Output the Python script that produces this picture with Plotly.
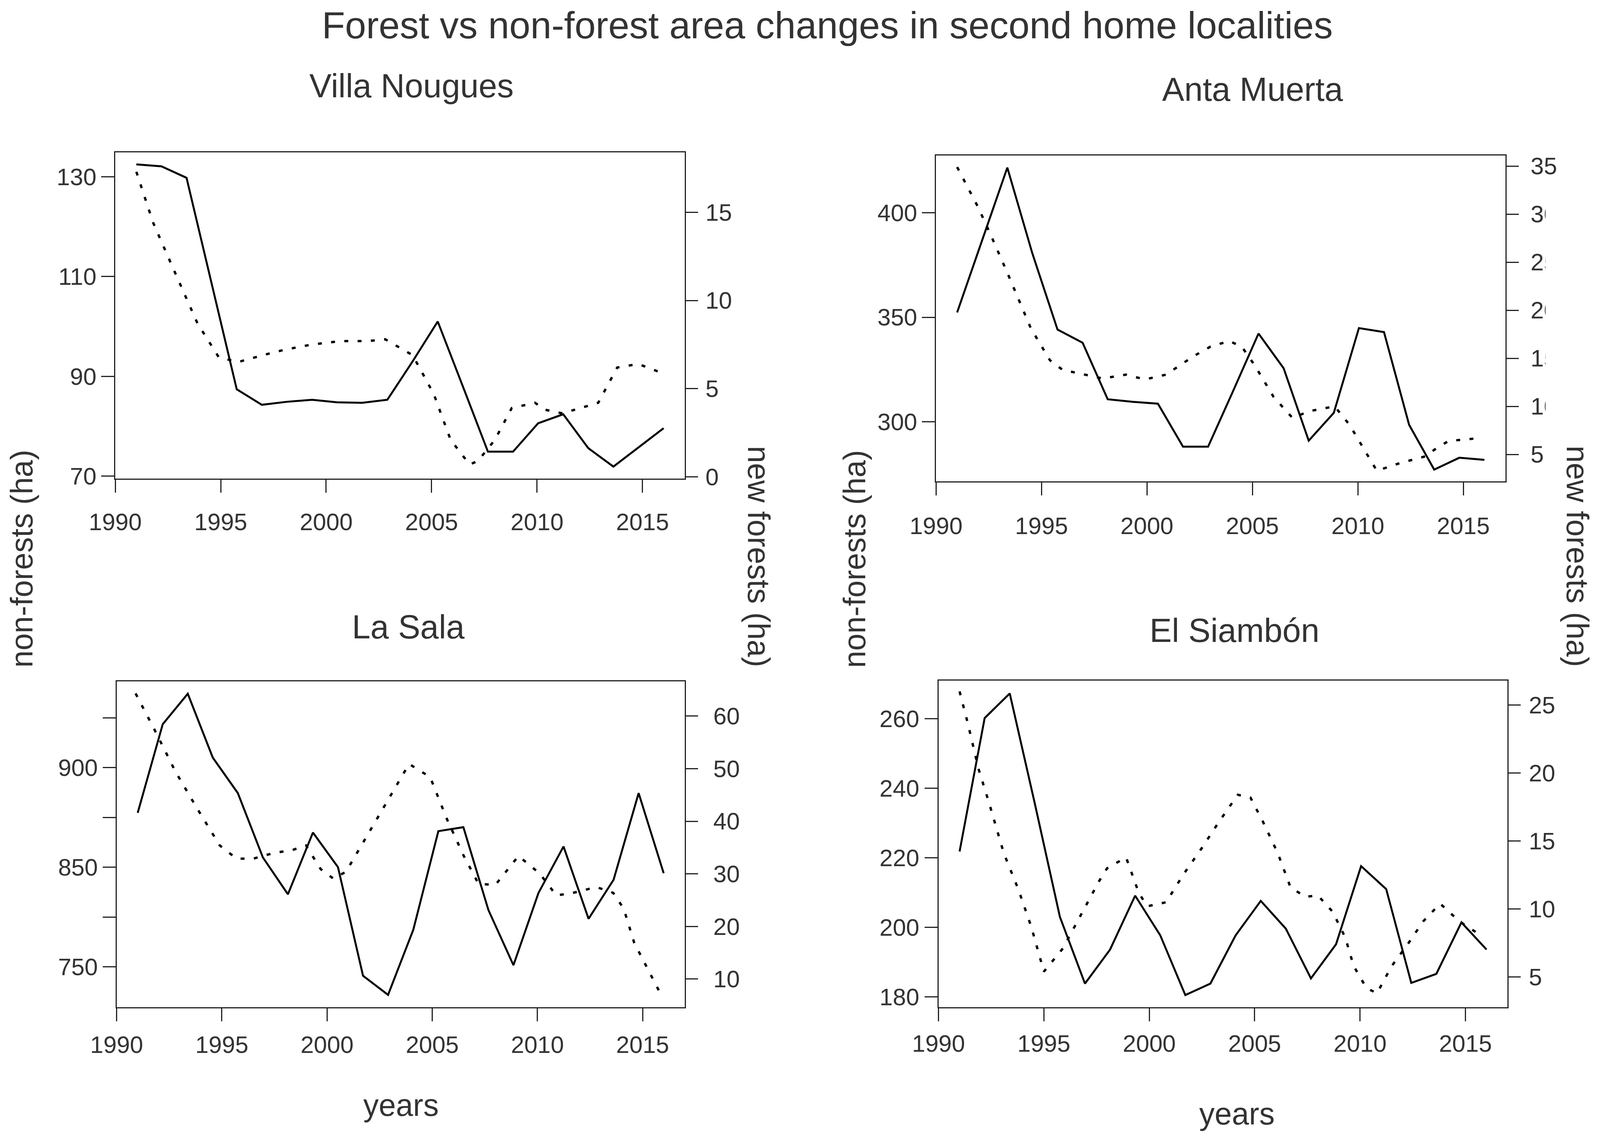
import plotly.graph_objects as go

# =============================================================================
# 1. DATA
# =============================================================================
TITLE = "Forest vs non-forest area changes in second home localities"
LOCALITIES = ["Villa Nougues", "Anta Muerta", "La Sala", "El Siambón"]

# image dates of the non-forest series (same for every locality)
YEARS = [1991.0, 1992.19, 1993.38, 1994.57, 1995.76, 1996.95, 1998.14, 1999.33,
         2000.52, 2001.71, 2002.9, 2004.1, 2005.29, 2006.48, 2007.67, 2008.86,
         2010.05, 2011.24, 2012.43, 2013.62, 2014.81, 2016.0]

# non-forests (ha), solid line, left axis
NONFOREST_VILLA_NOUGUES = [132.5, 132.1, 129.8, 108.5, 87.4, 84.3, 84.9, 85.3, 84.8, 84.7, 85.3,
                           93.0, 101.0, 88.0, 74.9, 74.9, 80.6, 82.4, 75.6, 71.9, 75.8, 79.6]
NONFOREST_ANTA_MUERTA = [352.3, 387.0, 421.7, 380.5, 344.1, 337.8, 310.7, 309.5, 308.6, 288.0, 288.0,
                         315.0, 342.2, 325.6, 290.9, 304.2, 344.8, 342.9, 298.5, 277.0, 282.7, 281.7]
NONFOREST_LA_SALA = [877.3, 921.8, 937.1, 905.0, 887.2, 854.9, 836.4, 867.4, 850.0, 795.5, 785.9,
                     818.6, 868.1, 870.1, 828.5, 800.8, 837.1, 860.4, 824.1, 843.7, 887.2, 847.0]
NONFOREST_EL_SIAMBON = [221.8, 260.2, 267.3, 235.6, 203.0, 183.8, 193.6, 209.1, 197.7, 180.5, 183.8,
                        197.7, 207.6, 199.6, 185.3, 195.1, 217.6, 211.0, 184.0, 186.6, 201.4, 193.6]

# new forests (ha), dotted smooth line, right axis
NEWFOREST_VILLA_NOUGUES_X = [1991.0, 1991.8, 1992.9, 1993.9, 1994.9, 1995.8, 1997.0, 1998.0, 1999.3,
                             2000.7, 2002.0, 2002.8, 2004.1, 2005.1, 2005.9, 2006.8, 2007.2, 2008.0,
                             2008.8, 2009.9, 2010.4, 2011.2, 2012.9, 2013.8, 2014.8, 2015.9]
NEWFOREST_VILLA_NOUGUES = [17.3, 14.4, 11.4, 8.7, 6.8, 6.5, 6.9, 7.2, 7.5, 7.7, 7.7, 7.8, 6.9, 4.7,
                           2.1, 0.7, 0.9, 2.1, 3.9, 4.2, 3.8, 3.6, 4.2, 6.2, 6.4, 5.9]

NEWFOREST_ANTA_MUERTA_X = [1991.0, 1992.0, 1992.6, 1993.4, 1994.5, 1995.4, 1996.0, 1997.1, 1997.9,
                           1999.0, 1999.9, 2000.9, 2002.2, 2003.0, 2003.9, 2004.5, 2005.1, 2006.0,
                           2006.9, 2007.7, 2008.9, 2009.6, 2010.3, 2010.9, 2012.0, 2013.2, 2013.7,
                           2014.3, 2015.8]
NEWFOREST_ANTA_MUERTA = [34.9, 30.7, 27.8, 23.8, 18.1, 14.8, 13.8, 13.3, 12.9, 13.3, 12.8, 13.3, 15.2,
                         16.2, 16.8, 16.2, 14.3, 11.0, 8.8, 9.5, 10.0, 8.1, 5.5, 3.3, 4.1, 4.8, 5.6,
                         6.4, 6.7]

NEWFOREST_LA_SALA_X = [1990.9, 1991.8, 1992.8, 1993.8, 1994.9, 1995.7, 1996.5, 1997.4, 1998.4, 1999.0,
                       1999.7, 2000.3, 2000.9, 2002.0, 2003.0, 2003.9, 2004.9, 2005.7, 2006.5, 2007.2,
                       2008.0, 2009.1, 2010.1, 2010.9, 2011.7, 2012.8, 2013.6, 2014.1, 2014.6, 2015.3,
                       2015.8]
NEWFOREST_LA_SALA = [64.3, 57.4, 49.4, 42.6, 35.4, 32.9, 32.9, 33.9, 34.6, 35.4, 30.9, 29.1, 30.4,
                     37.9, 44.9, 50.9, 48.4, 40.4, 33.4, 28.1, 27.9, 33.4, 30.1, 25.9, 26.4, 27.5,
                     26.4, 23.4, 16.9, 11.4, 7.6]

NEWFOREST_EL_SIAMBON_X = [1991.0, 1991.4, 1991.9, 1992.4, 1993.1, 1993.8, 1994.4, 1995.0, 1995.9,
                          1996.7, 1997.6, 1998.0, 1998.9, 1999.5, 1999.9, 2000.8, 2001.6, 2002.5,
                          2003.3, 2004.2, 2004.8, 2005.4, 2006.1, 2006.7, 2007.4, 2008.0, 2008.7,
                          2009.3, 2009.7, 2010.3, 2010.8, 2011.5, 2012.3, 2013.0, 2013.8, 2014.5,
                          2014.9, 2015.7]
NEWFOREST_EL_SIAMBON = [26.0, 23.6, 20.3, 17.8, 14.1, 11.4, 8.7, 5.4, 7.1, 9.4, 12.0, 13.0, 13.8,
                        11.2, 10.2, 10.5, 12.5, 14.5, 16.4, 18.4, 18.2, 16.4, 14.1, 11.6, 10.9, 11.0,
                        9.8, 7.9, 5.8, 4.2, 3.8, 5.8, 7.5, 9.1, 10.4, 9.4, 8.9, 8.1]

# tick labels
YEAR_TICKS = [1990, 1995, 2000, 2005, 2010, 2015]
LEFT_TICKS_VILLA_NOUGUES = [70, 90, 110, 130]
RIGHT_TICKS_VILLA_NOUGUES = [0, 5, 10, 15]
LEFT_TICKS_ANTA_MUERTA = [300, 350, 400]
RIGHT_TICKS_ANTA_MUERTA = [5, 10, 15, 20, 25, 30, 35]
LEFT_TICKS_LA_SALA = [925, 900, 875, 850, 825, 800]
LEFT_TICKTEXT_LA_SALA = ["", "900", "", "850", "", "750"]   # as printed in the source
RIGHT_TICKS_LA_SALA = [10, 20, 30, 40, 50, 60]
LEFT_TICKS_EL_SIAMBON = [180, 200, 220, 240, 260]
RIGHT_TICKS_EL_SIAMBON = [5, 10, 15, 20, 25]

# =============================================================================
# 2. LAYOUT SETTINGS
# =============================================================================
# the figure fills the browser window (minus the 8px body margin);
# positions below are given in reference-image pixels (4550 x 2923)
W, H = 4534, 2907
OFF = 8
FONT = "Liberation Sans, Arial, sans-serif"
TEXT_COLOR = "#333333"
LINE_COLOR = "#222222"
TICK_LEN = 33


def fx(px):
    return (px - OFF) / W


def fy(py):
    return 1 - (py - OFF) / H


PANELS = [
    # box in reference pixels: left, right, top, bottom
    dict(box=(327, 1947, 390, 1225), yl=[69.5, 134.9], yr=[-0.1, 18.4],
         lt=LEFT_TICKS_VILLA_NOUGUES, ltt=None, rt=RIGHT_TICKS_VILLA_NOUGUES,
         lstand=0, rstand=7, xstand=23,
         nonforest=NONFOREST_VILLA_NOUGUES,
         nx=NEWFOREST_VILLA_NOUGUES_X, ny=NEWFOREST_VILLA_NOUGUES),
    dict(box=(2662, 4282, 398, 1232), yl=[271.4, 427.5], yr=[2.2, 36.1],
         lt=LEFT_TICKS_ANTA_MUERTA, ltt=None, rt=RIGHT_TICKS_ANTA_MUERTA,
         lstand=0, rstand=18, xstand=26,
         nonforest=NONFOREST_ANTA_MUERTA,
         nx=NEWFOREST_ANTA_MUERTA_X, ny=NEWFOREST_ANTA_MUERTA),
    dict(box=(331, 1947, 1744, 2578), yl=[779.7, 943.3], yr=[4.65, 66.6],
         lt=LEFT_TICKS_LA_SALA, ltt=LEFT_TICKTEXT_LA_SALA, rt=RIGHT_TICKS_LA_SALA,
         lstand=0, rstand=27, xstand=8,
         nonforest=NONFOREST_LA_SALA,
         nx=NEWFOREST_LA_SALA_X, ny=NEWFOREST_LA_SALA),
    dict(box=(2669, 4288, 1742, 2578), yl=[177.0, 271.0], yr=[2.78, 26.8],
         lt=LEFT_TICKS_EL_SIAMBON, ltt=None, rt=RIGHT_TICKS_EL_SIAMBON,
         lstand=1, rstand=8, xstand=5,
         nonforest=NONFOREST_EL_SIAMBON,
         nx=NEWFOREST_EL_SIAMBON_X, ny=NEWFOREST_EL_SIAMBON),
]

TICK_FONT = dict(family=FONT, size=61, color=TEXT_COLOR)

# =============================================================================
# 3. CHART CONSTRUCTION
# =============================================================================
fig = go.Figure()
layout = {}

for i, p in enumerate(PANELS):
    n = i + 1
    xa = "x" if n == 1 else f"x{n}"
    yl_id = 2 * n - 1
    yr_id = 2 * n
    yl = "y" if yl_id == 1 else f"y{yl_id}"
    yr = f"y{yr_id}"
    left, right, top, bottom = p["box"]

    fig.add_trace(go.Scatter(
        x=YEARS, y=p["nonforest"], xaxis=xa, yaxis=yl, mode="lines",
        line=dict(color="black", width=5), showlegend=False,
    ))
    fig.add_trace(go.Scatter(
        x=p["nx"], y=p["ny"], xaxis=xa, yaxis=yr, mode="lines",
        line=dict(color="black", width=6, dash="10px,24px"), showlegend=False,
    ))

    layout["xaxis" if n == 1 else f"xaxis{n}"] = dict(
        domain=[fx(left), fx(right)], anchor=yl, range=[1990, 2017],
        tickvals=YEAR_TICKS, ticks="outside", ticklen=TICK_LEN, tickwidth=3, tickcolor=LINE_COLOR,
        ticklabelstandoff=p["xstand"], tickfont=TICK_FONT, automargin=False,
        showline=True, mirror=True, linewidth=3, linecolor=LINE_COLOR,
        showgrid=False, zeroline=False, fixedrange=True,
    )
    left_axis = dict(
        domain=[fy(bottom), fy(top)], anchor=xa, range=p["yl"],
        tickvals=p["lt"], ticks="outside", ticklen=TICK_LEN, tickwidth=3, tickcolor=LINE_COLOR,
        ticklabelstandoff=p["lstand"], tickfont=TICK_FONT, automargin=False,
        showline=True, mirror=True, linewidth=3, linecolor=LINE_COLOR,
        showgrid=False, zeroline=False, fixedrange=True,
    )
    if p["ltt"] is not None:
        left_axis["ticktext"] = p["ltt"]
    layout["yaxis" if yl_id == 1 else f"yaxis{yl_id}"] = left_axis
    layout[f"yaxis{yr_id}"] = dict(
        overlaying=yl, side="right", anchor=xa, range=p["yr"],
        tickvals=p["rt"], ticks="outside", ticklen=TICK_LEN, tickwidth=3, tickcolor=LINE_COLOR,
        ticklabelstandoff=p["rstand"], tickfont=TICK_FONT, automargin=False,
        showline=False, showgrid=False, zeroline=False, fixedrange=True,
    )

# titles and axis labels (reference pixel positions)
annotations = [
    dict(text=LOCALITIES[0], x=fx(1170), y=fy(219), size=85, angle=0),
    dict(text=LOCALITIES[1], x=fx(3563), y=fy(229), size=85, angle=0),
    dict(text=LOCALITIES[2], x=fx(1161), y=fy(1605), size=85, angle=0),
    dict(text=LOCALITIES[3], x=fx(3511), y=fy(1613), size=85, angle=0),
    dict(text="non-forests (ha)", x=fx(60), y=fy(1430), size=79, angle=-90),
    dict(text="non-forests (ha)", x=fx(2430), y=fy(1430), size=79, angle=-90),
    dict(text="new forests (ha)", x=fx(2158), y=fy(1424), size=79, angle=90),
    dict(text="new forests (ha)", x=fx(4488), y=fy(1424), size=79, angle=90),
    dict(text="years", x=fx(1140), y=fy(2828), size=79, angle=0),
    dict(text="years", x=fx(3518), y=fy(2850), size=79, angle=0),
]
layout["annotations"] = [
    dict(text=a["text"], x=a["x"], y=a["y"], xref="paper", yref="paper",
         xanchor="center", yanchor="middle", showarrow=False, textangle=a["angle"],
         font=dict(family=FONT, size=a["size"], color=TEXT_COLOR))
    for a in annotations
] + [
    dict(text=TITLE, x=fx(2353), y=1, xref="paper", yref="paper",
         xanchor="center", yanchor="top", showarrow=False,
         font=dict(family=FONT, size=97, color=TEXT_COLOR)),
]

# the source image cuts off the right half of Anta Muerta's two-digit labels
layout["shapes"] = [
    dict(type="rect", xref="paper", yref="paper", layer="above",
         x0=fx(4396), x1=fx(4445), y0=fy(1090), y1=fy(505),
         fillcolor="white", line=dict(width=0)),
]

fig.update_layout(
    autosize=True, margin=dict(l=0, r=0, t=0, b=0),
    paper_bgcolor="white", plot_bgcolor="white",
    font=dict(family=FONT, color=TEXT_COLOR),
    showlegend=False,
    **layout,
)

fig.write_html("out.html", default_width="calc(100vw - 16px)",
               default_height="calc(100vh - 16px)")
